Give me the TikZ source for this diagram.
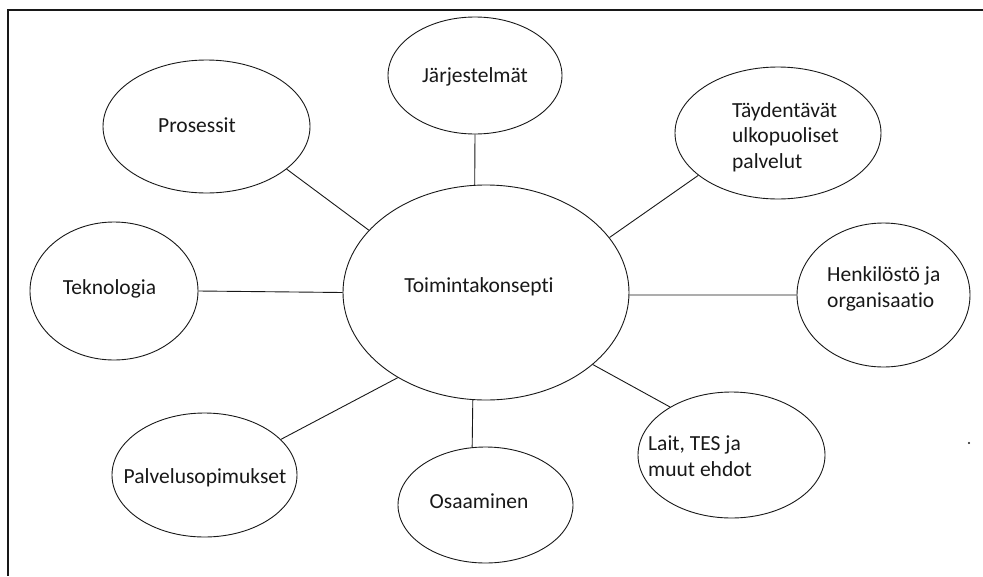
\documentclass[tikz,border=0pt]{standalone}
\usepackage{fontspec}
\setmainfont{Carlito}[Ligatures={NoCommon,NoContextual}]
\usetikzlibrary{shapes.geometric}
\definecolor{ink}{RGB}{24,24,24}
\begin{document}
\begin{tikzpicture}[x=1pt,y=-1pt,
  bubble/.style={draw=ink,line width=0.9pt,ellipse,inner sep=0pt},
  word/.style={inner sep=0pt,text=ink,font=\fontsize{21.5}{25.5}\selectfont,
               text height=14pt,text depth=0pt},
  lines/.style={inner sep=0pt,text=ink,font=\fontsize{21.5}{25.5}\selectfont,
                align=left,anchor=west},
  link/.style={draw=ink,line width=0.9pt}]
\useasboundingbox (0,0) rectangle (983,576);

% page frame (top and left edges)
\coordinate (frameTR) at (983,9.5);
\coordinate (frameTL) at (7.5,9.5);
\coordinate (frameBL) at (7.5,576);
\draw[ink,line width=2pt] (frameTR) -- (frameTL) -- (frameBL);

% ellipses
\node[bubble,minimum width=286pt,minimum height=215pt] (core) at (486,292.5) {};
\node[bubble,minimum width=207pt,minimum height=133pt] (pros) at (206.5,126.5) {};
\node[bubble,minimum width=174pt,minimum height=117pt] (jarj) at (475,75.5) {};
\node[bubble,minimum width=206pt,minimum height=132pt] (tayd) at (778,133) {};
\node[bubble,minimum width=168pt,minimum height=138pt] (tek) at (114,291) {};
\node[bubble,minimum width=173pt,minimum height=144pt] (henk) at (883.5,295) {};
\node[bubble,minimum width=187pt,minimum height=126pt] (lait) at (731.5,455) {};
\node[bubble,minimum width=175pt,minimum height=116pt] (osa) at (485.5,505) {};
\node[bubble,minimum width=185pt,minimum height=124pt] (palv) at (204.5,475) {};

% labels
\node[word] (coreT) at (479,285.5) {Toimintakonsepti};
\node[word] (prosT) at (197,125) {Prosessit};
\node[word] (jarjT) at (475,75) {Järjestelmät};
\node[word] (tekT) at (109.5,287) {Teknologia};
\node[word] (osaT) at (479,501.5) {Osaaminen};
\node[word] (palvT) at (205,476) {Palvelusopimukset};
\node[lines] (taydT) at (732,137) {Täydentävät\\ulkopuoliset\\palvelut};
\node[lines] (henkT) at (827,289) {Henkilöstö ja\\organisaatio};
\node[lines] (laitT) at (648,456) {Lait, TES ja\\muut ehdot};

% connectors
\draw[link] (pros.-28.6) -- (core.152.7);
\draw[link] (jarj.south) -- (core.96);
\draw[link] (tayd.-152.3) -- (core.24.7);
\draw[link] (tek.east) -- (core.180.5);
\draw[link] (henk.west) -- (core.-1);
\draw[link] (lait.142.7) -- (core.-34.5);
\draw[link] (osa.103.8) -- (core.-97.4);
\draw[link] (palv.25.7) -- (core.-136.3);

% small mark at the right
\fill[ink] (969,443) circle (1.1pt);
\end{tikzpicture}
\end{document}
